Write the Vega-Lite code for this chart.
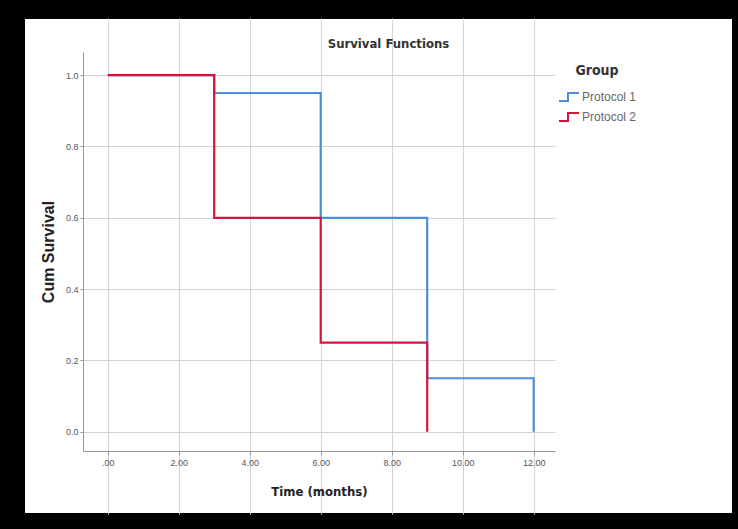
{
  "$schema": "https://vega.github.io/schema/vega-lite/v6.json",
  "autosize": {"type": "none"},
  "width": 709,
  "height": 496,
  "padding": {"left": 24, "top": 18, "right": 5, "bottom": 15},
  "background": "black",
  "config": {
    "view": {"fill": "white", "stroke": "black", "strokeWidth": 2},
    "axis": {"labelFont": "Liberation Sans", "titleFont": "DejaVu Sans Condensed, Liberation Sans, sans-serif", "labelColor": "#555", "titleColor": "#222"}
  },
  "title": {
    "text": "Survival Functions",
    "font": "DejaVu Sans Condensed, Liberation Sans, sans-serif",
    "fontSize": 13,
    "fontWeight": "bold",
    "color": "#333",
    "anchor": "middle",
    "dx": 10,
    "dy": 15,
    "offset": -24,
    "baseline": "middle"
  },
  "data": {
    "values": [
      {"time": 0, "surv": 1.0, "group": "Protocol 1"},
      {"time": 3, "surv": 0.95, "group": "Protocol 1"},
      {"time": 6, "surv": 0.6, "group": "Protocol 1"},
      {"time": 9, "surv": 0.15, "group": "Protocol 1"},
      {"time": 12, "surv": 0.0, "group": "Protocol 1"},
      {"time": 0, "surv": 1.0, "group": "Protocol 2"},
      {"time": 3, "surv": 0.6, "group": "Protocol 2"},
      {"time": 6, "surv": 0.25, "group": "Protocol 2"},
      {"time": 9, "surv": 0.0, "group": "Protocol 2"}
    ]
  },
  "resolve": {"axis": {"x": "independent"}},
  "layer": [
    {
      "mark": {"type": "rule", "opacity": 0},
      "encoding": {
        "x": {
          "field": "time",
          "type": "quantitative",
          "axis": {
            "orient": "top",
            "values": [0, 2, 4, 6, 8, 10, 12],
            "grid": true,
            "gridColor": "#d4d4d4",
            "gridWidth": 1,
            "labels": false,
            "ticks": false,
            "domain": false,
            "title": null
          }
        }
      }
    },
    {
      "mark": {"type": "line", "interpolate": "step-after", "strokeWidth": 2.2},
      "encoding": {
        "x": {
          "field": "time",
          "type": "quantitative",
          "scale": {"domain": [-0.7, 12.6], "range": [58.85, 531], "nice": false, "zero": false},
          "axis": {
            "orient": "bottom",
            "offset": -63,
            "values": [0, 2, 4, 6, 8, 10, 12],
            "labelExpr": "datum.value === 0 ? '.00' : format(datum.value, '.2f')",
            "grid": false,
            "domainColor": "#999",
            "tickColor": "#999",
            "tickSize": 4,
            "labelPadding": 3,
            "labelFontSize": 9,
            "title": "Time (months)",
            "titleFontSize": 13,
            "titleFontWeight": "bold",
            "titlePadding": 18
          }
        },
        "y": {
          "field": "surv",
          "type": "quantitative",
          "scale": {"domain": [-0.054, 1.065], "range": [433, 34], "nice": false, "zero": false},
          "axis": {
            "orient": "left",
            "offset": -59,
            "values": [0, 0.2, 0.4, 0.6, 0.8, 1.0],
            "format": ".1f",
            "grid": true,
            "gridColor": "#d4d4d4",
            "domainColor": "#999",
            "tickColor": "#999",
            "tickSize": 3,
            "labelPadding": 2,
            "labelFontSize": 9,
            "title": "Cum Survival",
            "titleFont": "Liberation Sans",
            "titleFontSize": 16,
            "titleFontWeight": "bold",
            "titlePadding": 9
          }
        },
        "color": {
          "field": "group",
          "type": "nominal",
          "scale": {"domain": ["Protocol 1", "Protocol 2"], "range": ["#4d8fd6", "#d4163f"]},
          "legend": {
            "title": "Group",
            "orient": "none",
            "legendX": 534,
            "legendY": 46,
            "padding": 0,
            "titleFont": "DejaVu Sans Condensed, Liberation Sans, sans-serif",
            "titleFontSize": 14,
            "titleFontWeight": "bold",
            "titleColor": "#333",
            "titleAnchor": "middle",
            "titlePadding": 8,
            "symbolType": "M-1,0.4H-0.1V-0.4H1",
            "symbolSize": 400,
            "symbolStrokeWidth": 2,
            "labelFont": "Liberation Sans",
            "labelFontSize": 12,
            "labelColor": "#666",
            "labelOffset": 2,
            "rowPadding": 1
          }
        }
      }
    }
  ]
}
